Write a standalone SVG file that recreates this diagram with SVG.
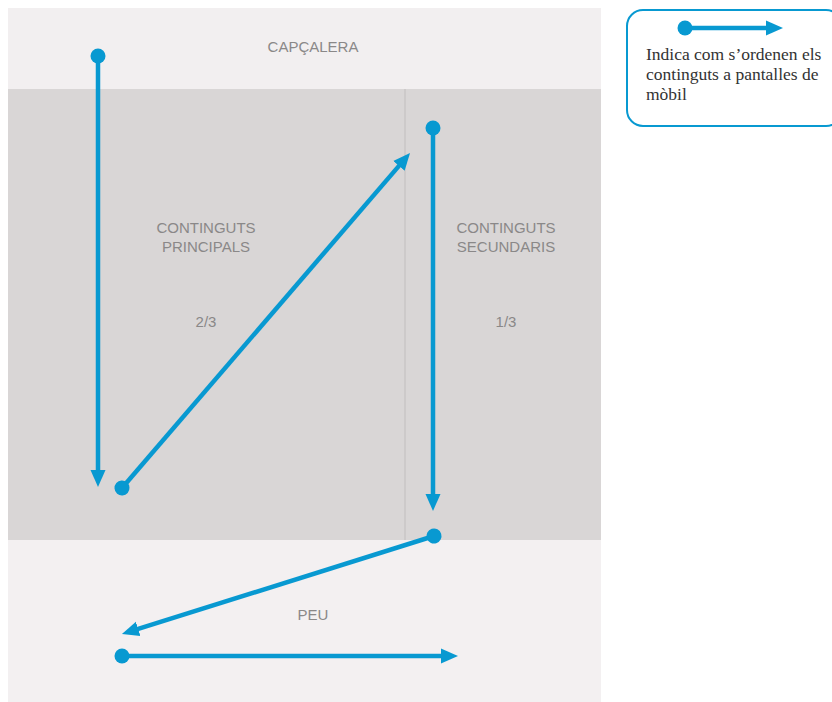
<svg xmlns="http://www.w3.org/2000/svg" width="832" height="702" viewBox="0 0 832 702">
<style>
.lbl{font-family:"Liberation Sans",Arial,sans-serif;font-size:15px;fill:#8a8888;text-anchor:middle}
.leg{font-family:"Liberation Serif","Times New Roman",serif;font-size:17.5px;fill:#333}
.flow{stroke:#0899d1;stroke-width:4.5;fill:none;marker-start:url(#dot);marker-end:url(#head)}
</style>
<defs>
<marker id="head" markerUnits="userSpaceOnUse" markerWidth="20" markerHeight="18" viewBox="0 0 20 18" refX="5" refY="9" orient="auto">
<path d="M0,1.5 L17,9 L0,16.5 Z" fill="#0899d1"/>
</marker>
<marker id="dot" markerUnits="userSpaceOnUse" markerWidth="18" markerHeight="18" viewBox="0 0 18 18" refX="9" refY="9" orient="auto">
<circle cx="9" cy="9" r="7.5" fill="#0899d1"/>
</marker>
</defs>
<rect width="832" height="702" fill="#ffffff"/>
<g id="capcalera">
<rect x="8" y="8" width="593" height="81" fill="#f2eff0"/>
<text class="lbl" x="313" y="52">CAPÇALERA</text>
</g>
<g id="principals">
<rect x="8" y="89" width="397" height="451" fill="#d9d6d6"/>
<text class="lbl" x="206" y="233">CONTINGUTS</text>
<text class="lbl" x="206" y="252">PRINCIPALS</text>
<text class="lbl" x="206" y="327">2/3</text>
</g>
<g id="secundaris">
<rect x="405" y="89" width="196" height="451" fill="#d9d6d6"/>
<line x1="405" y1="89" x2="405" y2="540" stroke="#cdcaca" stroke-width="2"/>
<text class="lbl" x="506" y="233">CONTINGUTS</text>
<text class="lbl" x="506" y="252">SECUNDARIS</text>
<text class="lbl" x="506" y="327">1/3</text>
</g>
<g id="peu">
<rect x="8" y="540" width="593" height="162" fill="#f3f0f1"/>
<text class="lbl" x="313" y="620">PEU</text>
</g>
<g id="llegenda">
<rect x="627" y="10" width="215" height="116" rx="16" fill="#fff" stroke="#0899d1" stroke-width="2"/>
<line class="flow" x1="685" y1="28" x2="771" y2="28"/>
<text class="leg" x="646" y="60">Indica com s’ordenen els</text>
<text class="leg" x="646" y="80">continguts a pantalles de</text>
<text class="leg" x="646" y="100">mòbil</text>
</g>
<g id="connectors">
<line class="flow" x1="98" y1="56" x2="98" y2="475"/>
<line class="flow" x1="122" y1="488" x2="402.2" y2="162.1"/>
<line class="flow" x1="433" y1="128" x2="433" y2="499"/>
<line class="flow" x1="434" y1="536" x2="133.4" y2="630.4"/>
<line class="flow" x1="122" y1="656" x2="446" y2="656"/>
</g>
</svg>
